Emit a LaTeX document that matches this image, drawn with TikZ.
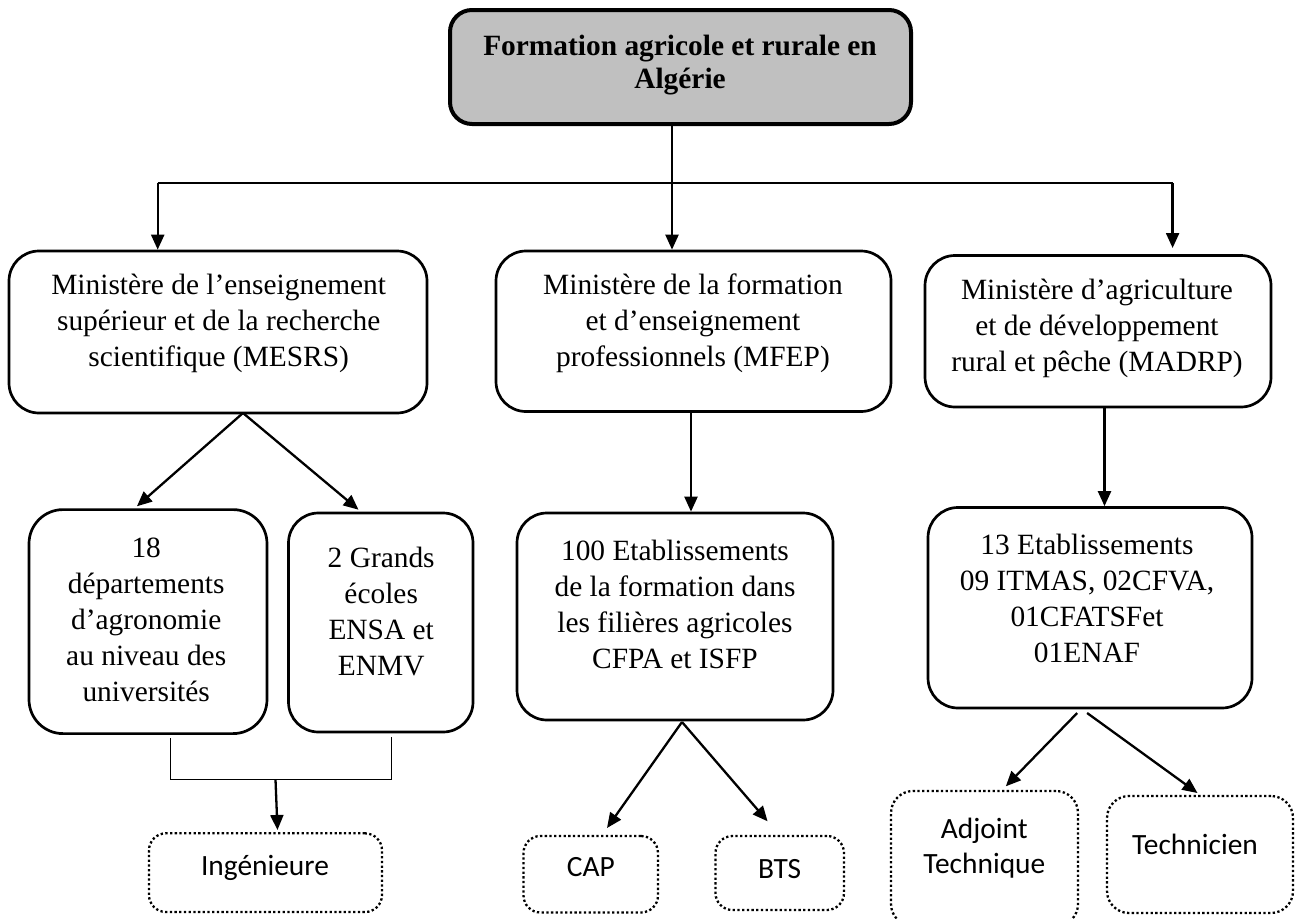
\documentclass[tikz,border=0pt]{standalone}
\usepackage{fontspec}
\setmainfont{Liberation Serif}
\newfontfamily\calibrifont{Carlito}
\usetikzlibrary{arrows.meta}
\definecolor{titlegray}{HTML}{C0C0C0}
\begin{document}
\begin{tikzpicture}[x=1pt,y=-1pt,
  solidbox/.style={draw, line width=2.7pt, rounded corners=30pt, inner sep=0pt},
  titlebox/.style={draw, line width=4pt, rounded corners=22pt, fill=titlegray, inner sep=0pt},
  dotbox/.style={draw, line width=2.3pt, dash pattern=on 2.3pt off 2.4pt, rounded corners=17pt, inner sep=0pt},
  txt/.style={inner sep=0pt, align=center, font=\fontsize{29.4pt}{36pt}\selectfont},
  titletxt/.style={inner sep=0pt, align=center, font=\fontsize{29.4pt}{33.3pt}\selectfont\bfseries},
  caltxt/.style={inner sep=0pt, align=center, font=\calibrifont\fontsize{29.4pt}{35pt}\selectfont},
  arr/.style={line width=2.3pt, -{Triangle[length=15pt,width=13pt]}},
  thinline/.style={line width=1.3pt},
  hairline/.style={line width=1pt}]
\useasboundingbox (0,0) rectangle (1300,918);
\clip (0,0) rectangle (1300,918);

% boxes
\node[titlebox, minimum width=461pt, minimum height=114pt] (title) at (680.5,67) {};
\node[solidbox, minimum width=418pt, minimum height=162pt] (mesrs) at (218,332) {};
\node[solidbox, minimum width=395pt, minimum height=160.5pt] (mfep) at (693.5,331.25) {};
\node[solidbox, minimum width=346pt, minimum height=151.5pt] (madrp) at (1098,331.25) {};
\node[solidbox, minimum width=238pt, minimum height=224pt, rounded corners=34pt] (dep) at (148,621.6) {};
\node[solidbox, minimum width=184.5pt, minimum height=219pt] (ecoles) at (380.75,622.5) {};
\node[solidbox, minimum width=316pt, minimum height=207pt] (etab100) at (675,616.5) {};
\node[solidbox, minimum width=324pt, minimum height=200.5pt] (etab13) at (1090,607.75) {};
\node[dotbox, minimum width=233pt, minimum height=78.7pt] (ing) at (265.5,872.65) {};
\node[dotbox, minimum width=134.5pt, minimum height=76.5pt] (cap) at (590.75,874.25) {};
\node[dotbox, minimum width=128.5pt, minimum height=74pt] (bts) at (779.75,873) {};
\node[dotbox, minimum width=187pt, minimum height=135pt, rounded corners=22pt] (adj) at (984.5,858.5) {};
\node[dotbox, minimum width=186pt, minimum height=117pt, rounded corners=22pt] (tech) at (1200,854.5) {};

% texts
\node[titletxt] (title-t) at (680,65) {\strut Formation agricole et rurale en\\ Algérie\strut};
\node[txt] (mesrs-t) at (218.7,323.5) {\strut Ministère de l’enseignement\\ supérieur et de la recherche\\ scientifique (MESRS)\strut};
\node[txt] (mfep-t) at (693,323.3) {\strut Ministère de la formation\\ et d’enseignement\\ professionnels (MFEP)\strut};
\node[txt] (madrp-t) at (1097,328.3) {\strut Ministère d’agriculture\\ et de développement\\ rural et pêche (MADRP)\strut};
\node[txt] (dep-t) at (146.2,622.3) {\strut 18\\ départements\\ d’agronomie\\ au niveau des\\ universités\strut};
\node[txt] (ecoles-t) at (381.2,614) {\strut 2 Grands\\ écoles\\ ENSA et\\ ENMV\strut};
\node[txt] (etab100-t) at (675,607.5) {\strut 100 Etablissements\\ de la formation dans\\ les filières agricoles\\ CFPA et ISFP\strut};
\node[txt] (etab13-t) at (1087,601.1) {\strut 13 Etablissements\\ 09 ITMAS, 02CFVA,\\ 01CFATSFet\\ 01ENAF\strut};
\node[caltxt] (ing-t) at (265,868) {\strut Ingénieure\strut};
\node[caltxt] (cap-t) at (590.8,869.7) {\strut CAP\strut};
\node[caltxt] (bts-t) at (779.7,871.7) {\strut BTS\strut};
\node[caltxt] (adj-t) at (984.3,848.5) {\strut Adjoint\\ Technique\strut};
\node[caltxt] (tech-t) at (1195,847.7) {\strut Technicien\strut};

% junction coordinates
\coordinate (jmid) at (672,183);
\coordinate (jleft) at (157.7,183);
\coordinate (jright) at (1172.6,183);
\coordinate (tipright) at (1172.6,248);
\coordinate (mesrsapex) at (243,413);
\coordinate (tipdep) at (136.9,506.3);
\coordinate (tipecoles) at (358.5,509.7);
\coordinate (mfepx) at (691,0);
\coordinate (madrpx) at (1104.5,0);
\coordinate (brl) at (170,738);
\coordinate (brlb) at (170,779.5);
\coordinate (brrb) at (391.5,779.5);
\coordinate (brr) at (391.5,736.5);
\coordinate (brmid) at (275.5,779.5);
\coordinate (tiping) at (277.5,830);
\coordinate (apex100) at (682,722);
\coordinate (tipcap) at (607,828);
\coordinate (tipbts) at (767.6,821.3);
\coordinate (apex13a) at (1077.2,713);
\coordinate (apex13b) at (1087.1,713);
\coordinate (tipadj) at (1005.8,786.3);
\coordinate (tiptech) at (1197.5,793);

% connectors
\draw[thinline] (jleft) -- (jright);
\draw[arr] (title.south -| jmid) -- (mfep.north -| jmid);
\draw[arr] (jleft) -- (mesrs.north -| jleft);
\draw[arr] (jright) -- (tipright);
\draw[arr] (mesrsapex) -- (tipdep);
\draw[arr] (mesrsapex) -- (tipecoles);
\draw[arr] (mfep.south -| mfepx) -- (etab100.north -| mfepx);
\draw[arr] (madrp.south -| madrpx) -- (etab13.north -| madrpx);
\draw[hairline] (brl) -- (brlb) -- (brrb) -- (brr);
\draw[arr] (brmid) -- (tiping);
\draw[arr] (apex100) -- (tipcap);
\draw[arr] (apex100) -- (tipbts);
\draw[arr] (apex13a) -- (tipadj);
\draw[arr] (apex13b) -- (tiptech);
\end{tikzpicture}
\end{document}
